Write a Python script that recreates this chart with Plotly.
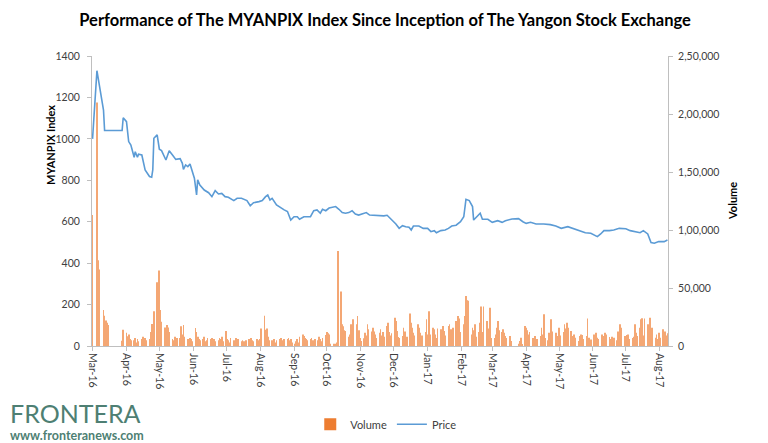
import pandas as pd
import plotly.graph_objects as go

# ---------------- Price (MYANPIX index) ----------------
price_dates = [
    "2016-03-25", "2016-03-29", "2016-04-04", "2016-04-05", "2016-04-21", "2016-04-22", "2016-04-25",
    "2016-04-27", "2016-04-29", "2016-05-02", "2016-05-03", "2016-05-05", "2016-05-06", "2016-05-09",
    "2016-05-12", "2016-05-16", "2016-05-18", "2016-05-19", "2016-05-20", "2016-05-23", "2016-05-25",
    "2016-05-27", "2016-05-31", "2016-06-03", "2016-06-06", "2016-06-09", "2016-06-13", "2016-06-15",
    "2016-06-16", "2016-06-18", "2016-06-20", "2016-06-22", "2016-06-26", "2016-06-28", "2016-06-29",
    "2016-07-01", "2016-07-05", "2016-07-09", "2016-07-12", "2016-07-15", "2016-07-18", "2016-07-21",
    "2016-07-24", "2016-07-27", "2016-08-01", "2016-08-04", "2016-08-08", "2016-08-13", "2016-08-16",
    "2016-08-19", "2016-08-24", "2016-08-27", "2016-08-30", "2016-09-01", "2016-09-03", "2016-09-05",
    "2016-09-09", "2016-09-13", "2016-09-16", "2016-09-19", "2016-09-22", "2016-09-25", "2016-09-28",
    "2016-09-30", "2016-10-04", "2016-10-10", "2016-10-13", "2016-10-16", "2016-10-19", "2016-10-21",
    "2016-10-24", "2016-10-27", "2016-10-31", "2016-11-02", "2016-11-05", "2016-11-08", "2016-11-11",
    "2016-11-14", "2016-11-17", "2016-11-20", "2016-11-23", "2016-11-27", "2016-11-30", "2016-12-03",
    "2016-12-10", "2016-12-16", "2016-12-19", "2016-12-22", "2016-12-27", "2016-12-30", "2017-01-02",
    "2017-01-05", "2017-01-08", "2017-01-10", "2017-01-12", "2017-01-17", "2017-01-21", "2017-01-25",
    "2017-01-28", "2017-01-31", "2017-02-02", "2017-02-06", "2017-02-10", "2017-02-13", "2017-02-16",
    "2017-02-20", "2017-02-24", "2017-02-27", "2017-03-01", "2017-03-04", "2017-03-07", "2017-03-08",
    "2017-03-14", "2017-03-16", "2017-03-21", "2017-03-25", "2017-03-30", "2017-04-03", "2017-04-06",
    "2017-04-12", "2017-04-18", "2017-04-22", "2017-04-25", "2017-04-29", "2017-05-04", "2017-05-11",
    "2017-05-17", "2017-05-22", "2017-05-27", "2017-06-02", "2017-06-06", "2017-06-12", "2017-06-18",
    "2017-06-23", "2017-06-29", "2017-07-02", "2017-07-05", "2017-07-10", "2017-07-14", "2017-07-19",
    "2017-07-25", "2017-07-29", "2017-08-03", "2017-08-07", "2017-08-10", "2017-08-14", "2017-08-17",
    "2017-08-20", "2017-08-24", "2017-08-29", "2017-09-01",
]
price_values = [
    1000, 1329, 1139, 1040, 1040, 1102, 1083,
    987, 970, 911, 938, 911, 926, 922,
    850, 818, 815, 850, 1003, 1019, 950,
    943, 898, 943, 922, 901, 904, 882,
    853, 874, 866, 879, 810, 729, 802,
    777, 753, 740, 721, 750, 734, 737,
    721, 718, 702, 713, 713, 702, 677,
    692, 697, 702, 721, 729, 705, 713,
    681, 665, 657, 649, 608, 624, 624,
    612, 624, 624, 653, 657, 641, 660,
    653, 666, 670, 673, 660, 644, 641,
    644, 653, 637, 632, 637, 644, 632,
    629, 628, 631, 616, 589, 568, 581,
    576, 573, 560, 579, 579, 568, 568,
    552, 557, 547, 557, 560, 568, 579,
    583, 600, 624, 708, 702, 673, 608,
    641, 612, 612, 597, 605, 597, 605,
    613, 615, 600, 592, 597, 589, 589,
    586, 579, 568, 576, 568, 557, 547,
    544, 528, 541, 557, 557, 560, 568,
    566, 557, 550, 547, 557, 541, 499,
    496, 504, 504, 512,
]

# ---------------- Daily volume, one list per month (trading days in order) ----------------
vol_2016_03 = [113000, 0, 210000, 74000, 66000]
vol_2016_04 = [0, 31000, 26000, 22000, 20000, 18000, 0, 0, 0, 0, 0, 0, 0, 0, 4500, 14000,
               11500, 8500, 10000, 6000, 5000]
vol_2016_05 = [5000, 7000, 3000, 6000, 4000, 6000, 8000, 4000, 7000, 5000, 6000, 12000, 19000,
               12000, 30000, 55000, 40000, 65000, 31000, 21000, 16000, 12000]
vol_2016_06 = [18000, 16000, 12000, 6000, 5000, 8000, 4000, 7000, 7000, 17000, 10000, 18000,
               8000, 6000, 5000, 7000, 6000, 4000, 15500, 12000, 8000, 6000]
vol_2016_07 = [5000, 6000, 8000, 4000, 5000, 7000, 6000, 7000, 5000, 6000, 4000, 5000, 7000,
               6000, 8000, 4000, 13000, 6000, 5000, 3000, 7000]
vol_2016_08 = [5000, 3000, 7000, 4000, 6000, 4000, 5000, 4000, 3000, 5000, 6000, 4000, 7000,
               5000, 4000, 6000, 5000, 3000, 6000, 15000, 26000, 14000, 15000]
vol_2016_09 = [8000, 5000, 5000, 4000, 6000, 3000, 5000, 6000, 7000, 5000, 4000, 6000, 6000,
               7000, 5000, 6000, 3000, 2000, 4000, 6000, 3000, 8000]
vol_2016_10 = [10000, 8600, 7000, 6000, 5000, 6000, 7000, 5000, 4000, 6000, 5000, 8000, 6000,
               4000, 7000, 9500, 12000, 11000, 10000, 2000, 2000]
vol_2016_11 = [2000, 2000, 3000, 82000, 47000, 18700, 17000, 13500, 13000, 8000, 10000, 18700,
               15800, 23000, 18700, 25900, 13500, 7000, 4300, 6600, 11500, 9000]
vol_2016_12 = [18700, 14400, 12400, 15800, 12400, 10000, 7000, 11500, 14400, 9000, 12000, 8000,
               17200, 20000, 12000, 9000, 11000, 24400, 21500, 13000, 7800, 7000]
vol_2017_01 = [8600, 15800, 12400, 4300, 8000, 28000, 20000, 15800, 11500, 9000, 18700, 15800,
               11500, 5700, 9000, 12000, 23000, 10000, 30000, 10000, 15800, 14400]
vol_2017_02 = [10000, 7000, 15000, 14400, 11500, 17200, 13000, 9000, 17200, 18700, 14400, 13000,
               15800, 21500, 10000, 25900, 23800, 12000, 18700, 25900]
vol_2017_03 = [43000, 39500, 39000, 10000, 15800, 13500, 18700, 8000, 12000, 20000, 34000, 12000,
               34000, 21500, 15000, 9000, 33000, 7000, 7000, 10000, 15800, 21500, 13500]
vol_2017_04 = [12000, 14400, 11500, 8600, 7000, 8600, 4300, 0, 0, 0, 0, 2000, 4300, 7200, 1400,
               17200, 15800, 13500, 10000, 12000]
vol_2017_05 = [7000, 2900, 8600, 5000, 6000, 8600, 15800, 10000, 27300, 7000, 4900, 11500, 10000,
               23000, 12400, 11500, 8600, 6000, 15800, 9000, 12000, 18700, 15000]
vol_2017_06 = [20000, 15800, 13000, 8600, 4300, 10000, 7200, 4300, 8600, 10000, 9500, 6000, 8600,
               23800, 7200, 5000, 5700, 10000, 9500, 11500, 7200, 6000]
vol_2017_07 = [10000, 8600, 7200, 11500, 10000, 7800, 6000, 8000, 4300, 7200, 5000, 12400, 7000,
               18700, 15800, 8600, 7200, 9500, 10000, 6000, 7000]
vol_2017_08 = [8000, 18700, 11500, 8600, 15800, 23000, 24000, 9000, 23800, 18700, 12400, 24400,
               11500, 15800, 7200, 10000, 6000, 11500, 7200, 14400, 10000, 12400, 9000]
vol_2017_09 = [11000]

volume_months = ["2016-03", "2016-04", "2016-05", "2016-06", "2016-07", "2016-08", "2016-09",
                 "2016-10", "2016-11", "2016-12", "2017-01", "2017-02", "2017-03", "2017-04",
                 "2017-05", "2017-06", "2017-07", "2017-08", "2017-09"]
volume_lists = [vol_2016_03, vol_2016_04, vol_2016_05, vol_2016_06, vol_2016_07, vol_2016_08,
                vol_2016_09, vol_2016_10, vol_2016_11, vol_2016_12, vol_2017_01, vol_2017_02,
                vol_2017_03, vol_2017_04, vol_2017_05, vol_2017_06, vol_2017_07, vol_2017_08,
                vol_2017_09]

first_day = pd.Timestamp("2016-03-25")
last_day = pd.Timestamp("2017-09-01")

# ---------------- Axis ticks ----------------
x_tick_dates = ["2016-03-25", "2016-04-25", "2016-05-25", "2016-06-25", "2016-07-25", "2016-08-25",
                "2016-09-25", "2016-10-25", "2016-11-25", "2016-12-25", "2017-01-25", "2017-02-25",
                "2017-03-25", "2017-04-25", "2017-05-25", "2017-06-25", "2017-07-25", "2017-08-25"]
x_tick_labels = ["Mar-16", "Apr-16", "May-16", "Jun-16", "Jul-16", "Aug-16", "Sep-16", "Oct-16",
                 "Nov-16", "Dec-16", "Jan-17", "Feb-17", "Mar-17", "Apr-17", "May-17", "Jun-17",
                 "Jul-17", "Aug-17"]
price_ticks = [0, 200, 400, 600, 800, 1000, 1200, 1400]
volume_ticks = [0, 50000, 100000, 150000, 200000, 250000]
volume_tick_labels = ["0", "50,000", "1,00,000", "1,50,000", "2,00,000", "2,50,000"]

# ---------------- Build volume x/y ----------------
vol_x, vol_y = [], []
for month, vals in zip(volume_months, volume_lists):
    m_start = pd.Timestamp(month + "-01")
    m_end = m_start + pd.offsets.MonthEnd(0)
    days = pd.bdate_range(max(m_start, first_day), min(m_end, last_day))
    for d, v in zip(days, vals):
        vol_x.append(d)
        vol_y.append(v)

FONT = "Lato"
TICK_COLOR = "#404040"
AXIS_COLOR = "#BFBFBF"
DAY_MS = 86400000

fig = go.Figure()
fig.add_trace(go.Bar(
    x=vol_x, y=vol_y, name="Volume", yaxis="y", showlegend=False,
    width=0.75 * DAY_MS,
    marker=dict(color="#F4A774", line=dict(width=0)),
))
# legend swatch for the volume bars (solid series colour, as in the original legend)
fig.add_trace(go.Bar(
    x=[None], y=[None], name="Volume", yaxis="y",
    marker=dict(color="#ED7D31", line=dict(width=0)),
))
fig.add_trace(go.Scatter(
    x=price_dates, y=price_values, name="Price", yaxis="y2", mode="lines",
    line=dict(color="#5B9BD5", width=1.6),
))

axis_common = dict(
    showline=True, linecolor=AXIS_COLOR, linewidth=1, showgrid=False, zeroline=False,
    ticks="outside", ticklen=4, tickcolor=AXIS_COLOR, automargin=False,
    tickfont=dict(family=FONT, size=10.5, color=TICK_COLOR),
)

fig.update_layout(
    width=768, height=443,
    margin=dict(l=84, r=108, t=48, b=105, autoexpand=False),
    paper_bgcolor="white", plot_bgcolor="white",
    font=dict(family=FONT, color=TICK_COLOR),
    barmode="overlay",
    title=dict(
        text="<b>Performance of The MYANPIX Index Since Inception of The Yangon Stock Exchange</b>",
        x=0.491, xanchor="center", y=0.973, yanchor="middle",
        font=dict(family=FONT, size=16.5, color="#000000"),
    ),
    xaxis=dict(
        type="date", range=["2016-03-24 12:00", "2017-09-01 12:00"],
        tickmode="array", tickvals=x_tick_dates, ticktext=x_tick_labels, tickangle=90,
        **axis_common,
    ),
    yaxis=dict(
        side="right", range=[0, 250000], tickmode="array",
        tickvals=volume_ticks, ticktext=volume_tick_labels, ticklabelstandoff=3, **axis_common,
    ),
    yaxis2=dict(
        side="left", overlaying="y", range=[0, 1400], tickmode="array",
        tickvals=price_ticks, ticklabelstandoff=5, **axis_common,
    ),
    showlegend=True,
    legend=dict(
        orientation="h", x=0.51, xanchor="center", y=-0.27, yanchor="middle",
        font=dict(family=FONT, size=11, color=TICK_COLOR), bgcolor="rgba(0,0,0,0)",
        itemwidth=30,
    ),
    annotations=[
        dict(text="<b>MYANPIX Index</b>", xref="paper", yref="paper",
             x=-0.073, y=0.693, xanchor="center", yanchor="middle",
             textangle=-90, showarrow=False,
             font=dict(family=FONT, size=11, color="#000000")),
        dict(text="<b>Volume</b>", xref="paper", yref="paper",
             x=1.111, y=0.5, xanchor="center", yanchor="middle",
             textangle=-90, showarrow=False,
             font=dict(family=FONT, size=11, color="#000000")),
        dict(text="FRONTERA", xref="paper", yref="paper",
             x=-0.145, y=-0.232, xanchor="left", yanchor="middle", showarrow=False,
             font=dict(family=FONT, size=25, color="#4E7F73")),
        dict(text="<b>www.fronteranews.com</b>", xref="paper", yref="paper",
             x=-0.145, y=-0.31, xanchor="left", yanchor="middle", showarrow=False,
             font=dict(family=FONT, size=12.5, color="#4E7F73")),
    ],
)

fig.write_html("out.html")
